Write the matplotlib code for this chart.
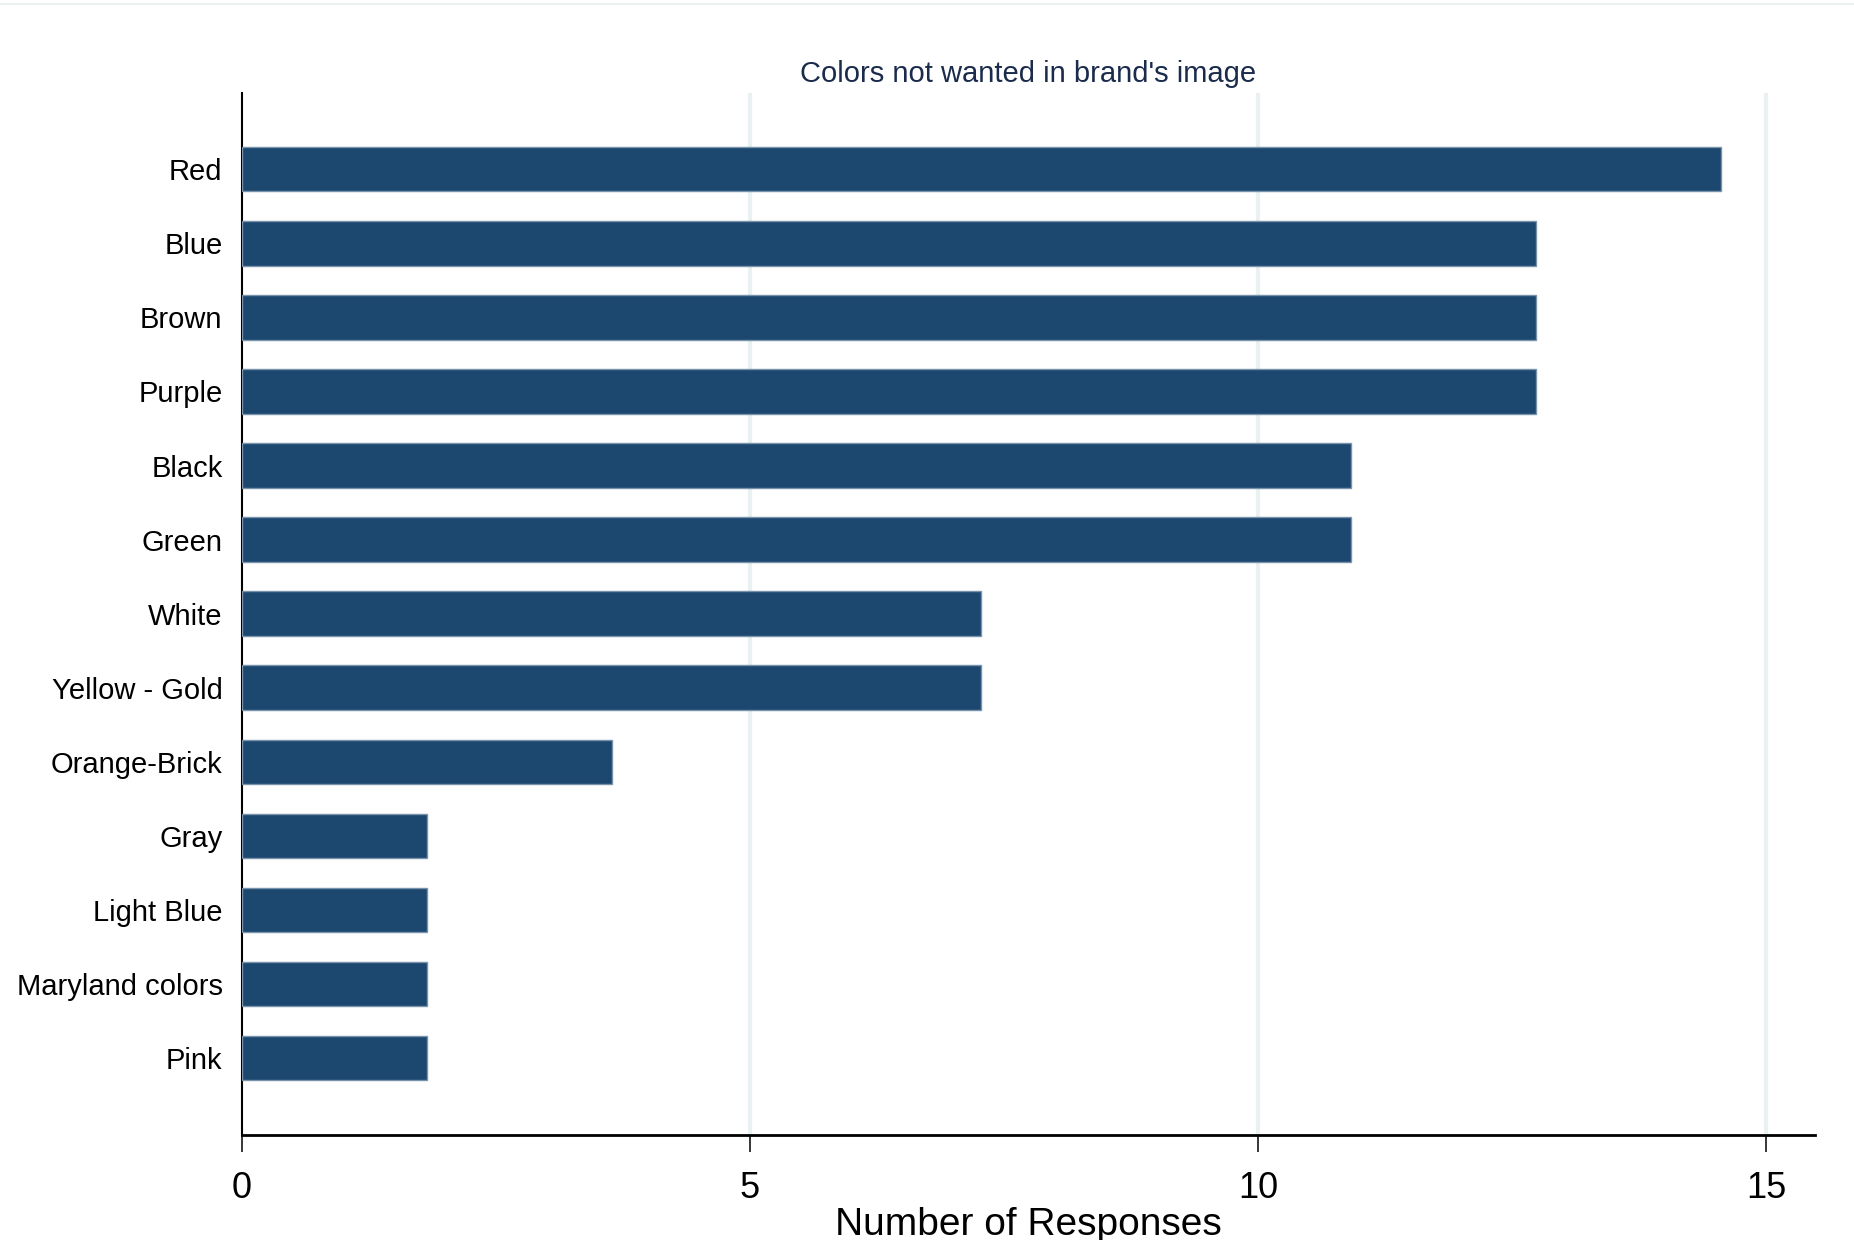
import numpy as np
import matplotlib
matplotlib.use('Agg')
import matplotlib.pyplot as plt
from matplotlib.lines import Line2D

plt.rcParams['font.family'] = ['Liberation Sans', 'DejaVu Sans']

# dados (de cima para baixo)
cores = ['Red', 'Blue', 'Brown', 'Purple', 'Black', 'Green', 'White',
         'Yellow - Gold', 'Orange-Brick', 'Gray', 'Light Blue',
         'Maryland colors', 'Pink']
respostas = [14.55, 12.73, 12.73, 12.73, 10.91, 10.91, 7.27,
             7.27, 3.64, 1.82, 1.82, 1.82, 1.82]
ticks_x = [0, 5, 10, 15]

titulo = "Colors not wanted in brand's image"
rotulo_x = 'Number of Responses'

cor_barra = '#1c4870'
cor_borda = '#7a93ad'
cor_grade = '#e9f1f2'

fig = plt.figure(figsize=(18.54, 12.4), dpi=100)
ax = fig.add_axes([0.1305, 0.0847, 0.979 - 0.1305, 0.925 - 0.0847])

pos = np.arange(len(cores))[::-1]
ax.barh(pos, respostas, height=0.6, color=cor_barra, edgecolor=cor_borda,
        linewidth=1.0, zorder=3)

ax.set_xlim(0, 15.48)
ax.set_ylim(-1.04, len(cores) - 1 + 1.03)

# grade vertical
for t in ticks_x[1:]:
    ax.axvline(t, color=cor_grade, linewidth=3.0, zorder=1)

ax.set_yticks(pos)
ax.set_yticklabels(cores, fontsize=21)
ax.tick_params(axis='y', length=0, pad=14)

ax.set_xticks(ticks_x)
ax.set_xticklabels([str(t) for t in ticks_x], fontsize=26)
ax.tick_params(axis='x', length=12, width=1.1, pad=14, color='black')

ax.set_xlabel(rotulo_x, fontsize=28, labelpad=1)
ax.set_title(titulo, fontsize=21, color='#1a2b4c', pad=8)

for lado in ['top', 'right']:
    ax.spines[lado].set_visible(False)
ax.spines['left'].set_linewidth(1.5)
ax.spines['bottom'].set_linewidth(2.0)

# linha clara no topo da figura
fig.add_artist(Line2D([0, 1], [0.9965, 0.9965], color='#eef1f1', linewidth=1.5,
                      transform=fig.transFigure))

plt.savefig('out.png', dpi=100)
